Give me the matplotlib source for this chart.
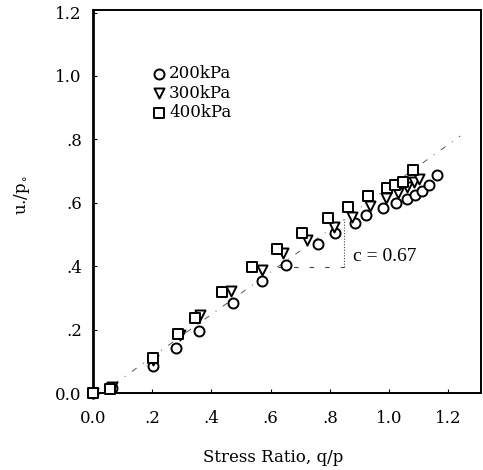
import numpy as np
import matplotlib
matplotlib.use('Agg')
import matplotlib.pyplot as plt

# pore pressure ratio vs stress ratio for three confining pressures
q200 = [0.0, 0.063, 0.204, 0.280, 0.358, 0.474, 0.572, 0.650, 0.758, 0.818, 0.883, 0.922,
        0.980, 1.022, 1.060, 1.088, 1.110, 1.133, 1.161]
u200 = [0.0, 0.015, 0.085, 0.141, 0.197, 0.285, 0.353, 0.404, 0.469, 0.504, 0.537, 0.563,
        0.585, 0.600, 0.612, 0.625, 0.637, 0.656, 0.688]

q300 = [0.0, 0.063, 0.204, 0.294, 0.361, 0.465, 0.570, 0.643, 0.722, 0.812, 0.874, 0.936,
        0.990, 1.030, 1.060, 1.085, 1.100]
u300 = [0.0, 0.018, 0.104, 0.183, 0.246, 0.323, 0.388, 0.441, 0.483, 0.525, 0.556, 0.590,
        0.615, 0.630, 0.650, 0.665, 0.675]

q400 = [0.0, 0.057, 0.204, 0.288, 0.345, 0.437, 0.538, 0.620, 0.705, 0.795, 0.862, 0.930,
        0.992, 1.020, 1.048, 1.079]
u400 = [0.0, 0.012, 0.109, 0.185, 0.238, 0.320, 0.397, 0.453, 0.504, 0.551, 0.588, 0.620,
        0.646, 0.656, 0.667, 0.703]

# fitted line u/p0 = c (q/p - q0)
c = 0.67
q0 = 0.03

fig = plt.figure(figsize=(4.83, 4.70), dpi=100)
ax = fig.add_axes([0.1925, 0.1638, 0.8034, 0.8149])

serif = 'DejaVu Serif'

xs = np.array([0.07, 1.24])
ax.plot(xs, c * (xs - q0), color='#555555', lw=0.7, ls=(0, (6, 8, 1, 8)), zorder=1)

# slope triangle
xa, xb = 0.624, 0.848
ax.plot([xa, xb], [c * (xa - q0), c * (xa - q0)], color='#444444', lw=0.8,
        ls=(0, (4, 10)), zorder=1)
ax.plot([xb, xb], [c * (xa - q0), c * (xb - q0)], color='#444444', lw=0.8,
        ls=(0, (1, 1.5)), zorder=1)
ax.text(xb + 0.03, 0.43, 'c = 0.67', fontsize=14, family='Liberation Serif', va='center')

kw = dict(facecolor='white', edgecolor='black', linewidths=1.4, zorder=3, clip_on=False)
ax.scatter(q200, u200, marker='o', s=52, label='200kPa', **kw)
ax.scatter(q300, u300, marker='v', s=52, label='300kPa', **kw)
ax.scatter(q400, u400, marker='s', s=44, label='400kPa', **kw)

ax.set_xlim(0, 1.31)
ax.set_ylim(0, 1.208)
ax.set_xticks([0, 0.2, 0.4, 0.6, 0.8, 1.0, 1.2])
ax.set_xticklabels(['0.0', '.2', '.4', '.6', '.8', '1.0', '1.2'])
ax.set_yticks([0, 0.2, 0.4, 0.6, 0.8, 1.0, 1.2])
ax.set_yticklabels(['0.0', '.2', '.4', '.6', '.8', '1.0', '1.2'])
ax.tick_params(direction='in', length=3, width=0.8, labelsize=12)
ax.tick_params(axis='x', pad=12)
ax.tick_params(axis='y', pad=8)
for lab in ax.get_xticklabels() + ax.get_yticklabels():
    lab.set_family(serif)
for s in ax.spines.values():
    s.set_linewidth(1.4)
ax.spines['left'].set_linewidth(2.0)

ax.set_xlabel('Stress Ratio, q/p', fontsize=12, family=serif)
ax.xaxis.set_label_coords(0.464, -0.145)
ax.set_ylabel(r'u./p$_{\circ}$', fontsize=12, family=serif)
ax.yaxis.set_label_coords(-0.158, 0.517)

leg = ax.legend(loc='upper left', bbox_to_anchor=(0.11, 0.895), frameon=False,
                handletextpad=0.1, labelspacing=0.15, handlelength=1.0,
                prop={'family': serif, 'size': 12})

fig.savefig('out.png', dpi=100)
